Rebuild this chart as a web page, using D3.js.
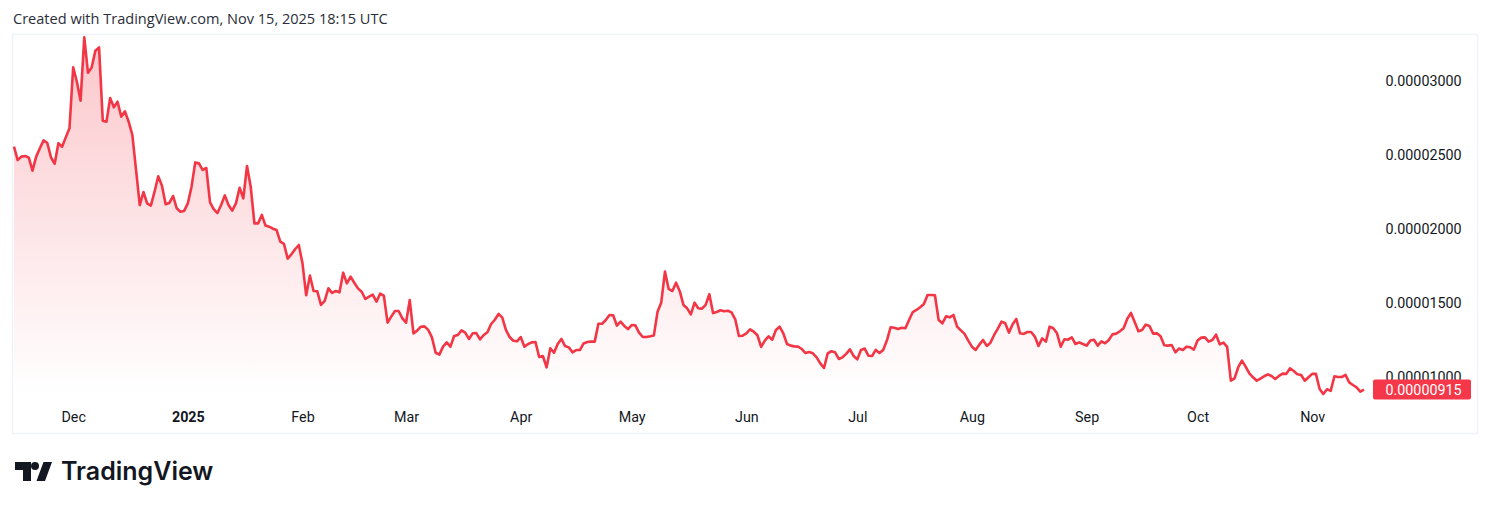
<!DOCTYPE html>
<html>
<head>
<meta charset="utf-8">
<script src="https://cdnjs.cloudflare.com/ajax/libs/d3/7.8.5/d3.min.js"></script>
<style>
  html, body { margin: 0; padding: 0; background: #fff; }
  svg { display: block; }
  text { font-family: "Open Sans", sans-serif; fill: #131722; }
</style>
</head>
<body>
<div id="chart"></div>
<script>
// closes per month, in units of 0.00000001
const nov24 = [2556,2466,2489,2493,2482,2394,2489,2545,2599,2581,2484,2441,2579,2556,2619,2680];
const dec24 = [3092,2995,2867,3295,3056,3092,3205,3227,2732,2725,2885,2822,2860,2759,2795,2725,2635,2399,2162,2250,2173,2158,2252,2356,2293,2167,2176,2223,2140,2117,2122];
const jan25 = [2173,2286,2450,2444,2399,2412,2180,2135,2108,2162,2227,2162,2124,2173,2279,2207,2426,2286,2038,2038,2095,2023,2016,2002,1993,1914,1899,1800,1829,1863,1892];
const feb25 = [1768,1552,1685,1581,1579,1487,1514,1599,1568,1581,1572,1705,1633,1678,1637,1599,1576,1527,1543,1556,1509,1563,1549,1367,1408,1446,1446,1396];
const mar25 = [1367,1520,1295,1313,1340,1342,1318,1268,1164,1151,1205,1234,1205,1277,1284,1315,1300,1257,1295,1297,1254,1284,1302,1358,1387,1426,1403,1318,1270,1245,1241];
const apr25 = [1270,1205,1223,1234,1236,1135,1142,1065,1194,1164,1223,1257,1209,1200,1167,1182,1182,1227,1236,1239,1239,1360,1360,1385,1419,1417,1347,1374,1345,1324];
const may25 = [1351,1349,1300,1270,1270,1275,1281,1441,1504,1712,1595,1581,1637,1580,1487,1464,1423,1502,1464,1462,1487,1559,1432,1439,1451,1444,1448,1437,1390,1277,1279];
const jun25 = [1295,1322,1306,1282,1203,1246,1275,1252,1318,1340,1295,1223,1212,1207,1205,1189,1162,1169,1160,1133,1092,1061,1160,1174,1167,1122,1133,1156,1187,1142];
const jul25 = [1119,1183,1192,1144,1142,1183,1162,1183,1246,1336,1333,1324,1333,1329,1385,1439,1453,1471,1493,1554,1554,1552,1385,1363,1410,1403,1419,1340,1315,1291,1246];
const aug25 = [1205,1183,1219,1250,1210,1232,1284,1327,1374,1363,1300,1356,1392,1295,1291,1304,1304,1273,1210,1261,1239,1340,1329,1295,1205,1255,1252,1268,1223,1234,1223];
const sep25 = [1212,1246,1252,1212,1241,1228,1250,1288,1293,1309,1329,1394,1433,1372,1309,1318,1354,1345,1293,1295,1275,1214,1212,1216,1167,1192,1183,1205,1201,1185];
const oct25 = [1246,1266,1268,1239,1250,1286,1221,1232,1203,975,991,1066,1111,1070,1025,998,975,989,1005,1018,1007,987,1007,1023,1021,1059,1041,1018,1014,975,998];
const nov25 = [1021,1021,919,885,917,906,1005,1000,1000,1014,964,946,930,901,915];

const firstDay = Date.UTC(2024, 10, 15);
const priceTicks = [0.00001, 0.000015, 0.00002, 0.000025, 0.00003];
const monthTicks = [
  [2024, 11, "Dec"], [2025, 0, "2025"], [2025, 1, "Feb"], [2025, 2, "Mar"],
  [2025, 3, "Apr"], [2025, 4, "May"], [2025, 5, "Jun"], [2025, 6, "Jul"],
  [2025, 7, "Aug"], [2025, 8, "Sep"], [2025, 9, "Oct"], [2025, 10, "Nov"]
];

const closes = [].concat(nov24, dec24, jan25, feb25, mar25, apr25, may25, jun25, jul25, aug25, sep25, oct25, nov25);
const data = closes.map((c, i) => ({date: new Date(firstDay + i * 864e5), price: c * 1e-8}));
const lastPoint = data[data.length - 1];

const width = 1491, height = 509;
const red = "#f23645";
const axisFont = "Roboto, sans-serif";

const x = d3.scaleUtc()
  .domain([data[0].date, lastPoint.date])
  .range([14, 1364]);

const y = d3.scaleLinear()
  .domain([0.00001, 0.00003])
  .range([377, 81]);

const svg = d3.select("#chart").append("svg")
  .attr("width", width)
  .attr("height", height);

svg.append("text")
  .attr("x", 13)
  .attr("y", 24)
  .style("font-size", "14.55px")
  .style("fill", "#2a2e39")
  .text("Created with TradingView.com, Nov 15, 2025 18:15 UTC");

// chart frame
svg.append("rect")
  .attr("x", 12.5)
  .attr("y", 34.5)
  .attr("width", 1465)
  .attr("height", 399)
  .attr("fill", "#fff")
  .attr("stroke", "#f0f3fa")
  .attr("stroke-width", 1.5);

const defs = svg.append("defs");
const grad = defs.append("linearGradient")
  .attr("id", "areaFill")
  .attr("gradientUnits", "userSpaceOnUse")
  .attr("x1", 0).attr("x2", 0)
  .attr("y1", y(d3.max(data, d => d.price)))
  .attr("y2", 395);
grad.append("stop").attr("offset", 0).attr("stop-color", "#f23645").attr("stop-opacity", 0.28);
grad.append("stop").attr("offset", 1).attr("stop-color", "#f23645").attr("stop-opacity", 0);

const area = d3.area()
  .x(d => x(d.date))
  .y0(395)
  .y1(d => y(d.price));

const line = d3.line()
  .x(d => x(d.date))
  .y(d => y(d.price));

svg.append("path")
  .datum(data)
  .attr("fill", "url(#areaFill)")
  .attr("d", area);

svg.append("path")
  .datum(data)
  .attr("fill", "none")
  .attr("stroke", red)
  .attr("stroke-width", 2.6)
  .attr("stroke-linejoin", "round")
  .attr("d", line);

const yAxis = d3.axisRight(y)
  .tickValues(priceTicks)
  .tickSize(0)
  .tickPadding(0)
  .tickFormat(d => d.toFixed(8));

const yG = svg.append("g")
  .attr("transform", "translate(1385.5, 0)")
  .call(yAxis);
yG.select(".domain").remove();
yG.selectAll("text")
  .style("font-family", axisFont)
  .style("font-size", "14.3px")
  .style("fill", "#131722");

const tickDates = monthTicks.map(t => new Date(Date.UTC(t[0], t[1], 1)));
const tickNames = monthTicks.map(t => t[2]);

const xAxis = d3.axisBottom(x)
  .tickValues(tickDates)
  .tickSize(0)
  .tickPadding(0)
  .tickFormat((d, i) => tickNames[i]);

const xG = svg.append("g")
  .attr("transform", "translate(0, 412)")
  .call(xAxis);
xG.select(".domain").remove();
xG.selectAll("text")
  .style("font-family", axisFont)
  .style("font-size", "14.3px")
  .style("fill", "#131722")
  .style("font-weight", d => d.getUTCMonth() === 0 ? 700 : 400);

// last price tag
const lastY = y(lastPoint.price);
svg.append("rect")
  .attr("x", 1373)
  .attr("y", lastY - 10)
  .attr("width", 98)
  .attr("height", 20)
  .attr("rx", 2)
  .attr("fill", "#f5374a");
svg.append("text")
  .attr("x", 1385.5)
  .attr("y", lastY)
  .attr("dy", "0.35em")
  .style("font-family", axisFont)
  .style("font-size", "14.3px")
  .style("fill", "#fff")
  .text(lastPoint.price.toFixed(8));

// footer logo
svg.append("g")
  .attr("transform", "translate(15, 462)")
  .attr("fill", "#131722")
  .call(g => {
    g.append("path").attr("d", "M0 0H16V19H8V8H0zM21.5 19H30L37 0H28.5z");
    g.append("circle").attr("cx", 20).attr("cy", 4).attr("r", 4);
  });
svg.append("text")
  .attr("x", 61)
  .attr("y", 480)
  .style("font-family", "Inter, sans-serif")
  .style("font-weight", 600)
  .style("font-size", "25px")
  .text("TradingView");
</script>
</body>
</html>
